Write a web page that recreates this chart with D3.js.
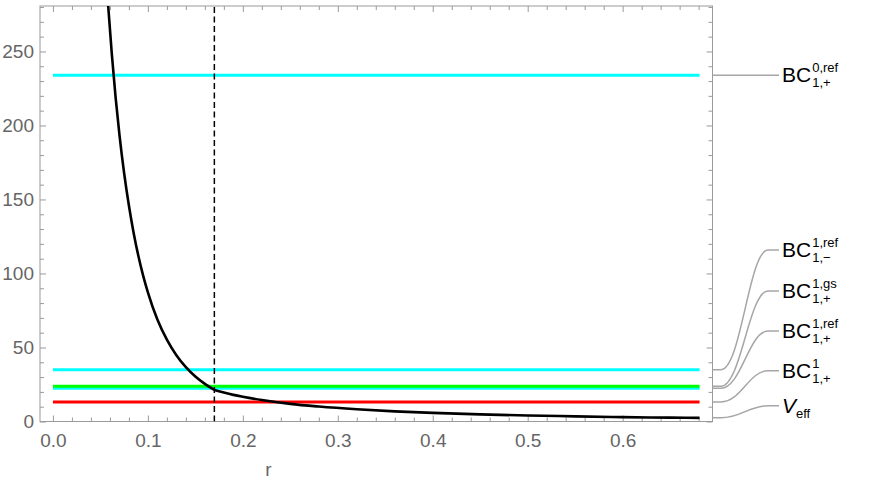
<!DOCTYPE html>
<html><head><meta charset="utf-8">
<script src="https://cdn.jsdelivr.net/npm/d3@7"></script>
<style>
body{margin:0;background:#fff}
text{font-family:"Liberation Sans",Arial,sans-serif}
</style>
</head><body>
<svg id="chart" width="872" height="489"></svg>
<script>
// ---------------- data ----------------
const xTicks = [0.0, 0.1, 0.2, 0.3, 0.4, 0.5, 0.6];
const xTickLabels = ["0.0", "0.1", "0.2", "0.3", "0.4", "0.5", "0.6"];
const yTicks = [0, 50, 100, 150, 200, 250];
const yTickLabels = ["0", "50", "100", "150", "200", "250"];
const rStart = 0.0, rEnd = 0.681;
const kinkR = 0.17;               // vertical dashed line
// horizontal levels (top to bottom in the label column)
const levelIds    = ["bc0ref", "bc1refm", "bc1gs", "bc1refp", "bc1"];
const levelValues = [234.0, 35.0, 23.85, 22.4, 13.2];
// effective potential
const veffR = [0.056, 0.058, 0.062, 0.066, 0.070, 0.075, 0.080, 0.085, 0.090, 0.095, 0.100, 0.110, 0.120,
               0.130, 0.140, 0.150, 0.160, 0.170,
               0.180, 0.190, 0.200, 0.220, 0.250, 0.280, 0.320, 0.360, 0.400, 0.450, 0.500, 0.550,
               0.600, 0.650, 0.681];
const veffV = [301.5, 282.4, 248.4, 219.0, 194.0, 167.7, 145.9, 127.4, 111.8, 98.6, 87.3, 68.9, 55.3,
               44.8, 36.7, 30.4, 25.4, 21.3,
               19.55, 18.0, 16.7, 14.5, 11.9, 10.1, 8.25, 6.85, 5.8, 4.8, 4.06, 3.48,
               2.97, 2.6, 2.45];
// labels
const labelMain = ["BC", "BC", "BC", "BC", "BC", "V"];
const labelSup  = ["0,ref", "1,ref", "1,gs", "1,ref", "1", ""];
const labelSub  = ["1,+", "1,\u2212", "1,+", "1,+", "1,+", "eff"];

// ---------------- styles ----------------
const levelColor = {bc0ref:"#00ffff", bc1refm:"#00ffff", bc1gs:"#00ff00", bc1refp:"#00ffff", bc1:"#ff0000"};
const drawOrder = ["bc0ref", "bc1refm", "bc1refp", "bc1gs", "bc1"];
const labelY = [75, 250, 291, 331, 370.7, 405.7];

const W = 872, H = 489;
const L = 40, R = 712.5, T = 6, B = 421.5;
const pad = (rEnd - rStart) * 0.02;
const x = d3.scaleLinear().domain([rStart - pad, rEnd + pad]).range([L, R]);
const y = d3.scaleLinear().domain([0, 280.7]).range([B, T]);

const svg = d3.select("#chart");
const frameColor = "#9a9a9a", labelColor = "#666";

svg.append("defs").append("clipPath").attr("id","clip")
  .append("rect").attr("x",L).attr("y",T).attr("width",R-L).attr("height",B-T);

// frame
svg.append("rect").attr("x",L).attr("y",T).attr("width",R-L).attr("height",B-T)
  .attr("fill","none").attr("stroke",frameColor).attr("stroke-width",1);

const xMinor = d3.range(0, 0.681, 0.02).filter(v => Math.abs(v*10 - Math.round(v*10)) > 1e-6);
const yMinor = d3.range(0, 281, 10).filter(v => v % 50 !== 0);

function styleAxis(g){
  g.select(".domain").remove();
  g.selectAll("line").attr("stroke",frameColor);
  g.selectAll("text").attr("fill",labelColor).style("font-size","19px")
    .style("font-family",'"Liberation Sans",Arial,sans-serif');
}
// bottom
svg.append("g").attr("transform",`translate(0,${B})`)
  .call(d3.axisBottom(x).tickValues(xTicks).tickSize(-6).tickPadding(12)
        .tickFormat((d,i)=>xTickLabels[i])).call(styleAxis);
svg.append("g").attr("transform",`translate(0,${B})`)
  .call(d3.axisBottom(x).tickValues(xMinor).tickSize(-4).tickFormat("")).call(styleAxis);
// top
svg.append("g").attr("transform",`translate(0,${T})`)
  .call(d3.axisTop(x).tickValues(xTicks).tickSize(-6).tickFormat("")).call(styleAxis);
svg.append("g").attr("transform",`translate(0,${T})`)
  .call(d3.axisTop(x).tickValues(xMinor).tickSize(-4).tickFormat("")).call(styleAxis);
// left
svg.append("g").attr("transform",`translate(${L},0)`)
  .call(d3.axisLeft(y).tickValues(yTicks).tickSize(-6).tickPadding(6)
        .tickFormat((d,i)=>yTickLabels[i])).call(styleAxis);
svg.append("g").attr("transform",`translate(${L},0)`)
  .call(d3.axisLeft(y).tickValues(yMinor).tickSize(-4).tickFormat("")).call(styleAxis);
// right
svg.append("g").attr("transform",`translate(${R},0)`)
  .call(d3.axisRight(y).tickValues(yTicks).tickSize(-6).tickFormat("")).call(styleAxis);
svg.append("g").attr("transform",`translate(${R},0)`)
  .call(d3.axisRight(y).tickValues(yMinor).tickSize(-4).tickFormat("")).call(styleAxis);

// axis title
svg.append("text").attr("x",x(0.227)).attr("y",476).attr("text-anchor","middle")
  .attr("fill",labelColor).style("font-size","19px").text("r");

const plot = svg.append("g").attr("clip-path","url(#clip)");

// horizontal levels
drawOrder.forEach(id => {
  const v = levelValues[levelIds.indexOf(id)];
  plot.append("line").attr("x1",x(rStart)).attr("x2",x(rEnd))
    .attr("y1",y(v)).attr("y2",y(v))
    .attr("stroke",levelColor[id]).attr("stroke-width",3);
});

// dashed vertical line
plot.append("line").attr("x1",x(kinkR)).attr("x2",x(kinkR)).attr("y1",B).attr("y2",T)
  .attr("stroke","#000").attr("stroke-width",1.5).attr("stroke-dasharray","6,3.5");

// effective potential (two smooth pieces meeting at the kink)
const pts = veffR.map((r,i)=>[r, veffV[i]]);
const inner = pts.filter(p => p[0] <= kinkR + 1e-9);
const outer = pts.filter(p => p[0] >= kinkR - 1e-9);
const line = d3.line().x(d=>x(d[0])).y(d=>y(d[1])).curve(d3.curveMonotoneX);
[inner, outer].forEach(seg => {
  plot.append("path").attr("d", line(seg)).attr("fill","none")
    .attr("stroke","#000").attr("stroke-width",2.6).attr("stroke-linejoin","round");
});

// callouts
const calloutY0 = [levelValues[0], levelValues[1], levelValues[2], levelValues[3], levelValues[4], veffV[veffV.length-1]].map(v=>y(v));
const calloutColor = "#a6a6a6";
calloutY0.forEach((y0,i) => {
  const y1 = labelY[i];
  let d;
  if (Math.abs(y1 - y0) < 1) d = `M${R},${y0} H779`;
  else d = `M${R},${y0} H721 C741,${y0} 749,${y1} 768,${y1} H779`;
  svg.append("path").attr("d",d).attr("fill","none").attr("stroke",calloutColor).attr("stroke-width",1.5);
  const g = svg.append("g");
  const base = y1 + 7.3;
  const isV = labelMain[i] === "V";
  const t = g.append("text").attr("x",782).attr("y",base).attr("fill","#000").style("font-size","21px")
    .style("font-style", isV ? "italic" : "normal").text(labelMain[i]);
  const w = t.node().getComputedTextLength();
  if (labelSup[i]) g.append("text").attr("x",782 + w + 1).attr("y",base - 10)
      .attr("fill","#000").style("font-size","13px").text(labelSup[i]);
  g.append("text").attr("x",782 + w + (isV ? 0 : 1)).attr("y",base + (isV ? 4.5 : 4.9))
      .attr("fill","#000").style("font-size","13px").text(labelSub[i]);
});
</script>
</body></html>
